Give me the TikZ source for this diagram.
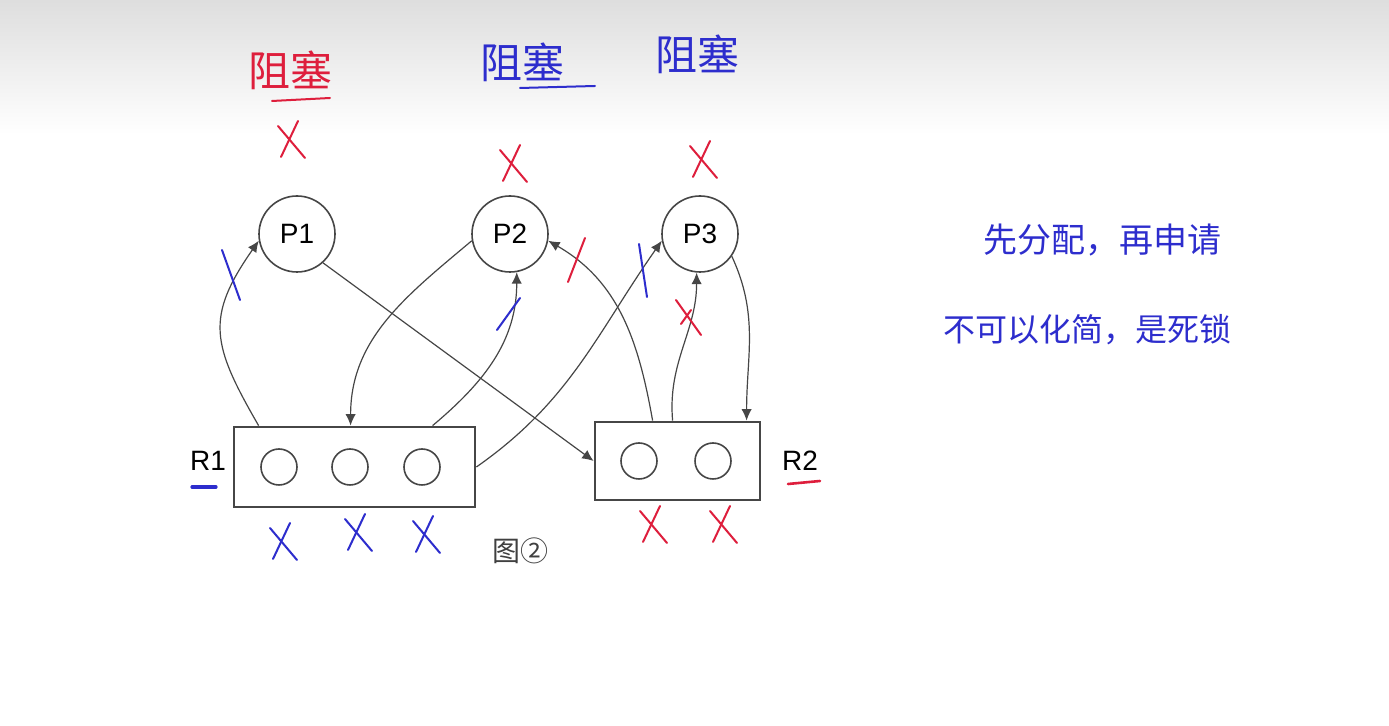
\documentclass[tikz,border=0pt]{standalone}
\usepackage{fontspec}
\setmainfont{Liberation Sans}
\newfontfamily\cjk{Noto Sans CJK SC}
\usetikzlibrary{arrows.meta,positioning,calc}
\definecolor{inkred}{RGB}{222,30,60}
\definecolor{inkblue}{RGB}{45,45,205}
\definecolor{graphgray}{RGB}{70,70,70}

\begin{document}
\begin{tikzpicture}[x=0.5pt,y=0.5pt,
 proc/.style={draw=graphgray,circle,line width=0.8pt,minimum size=38pt,inner sep=0pt,font=\fontsize{14}{16}\selectfont},
 res/.style={draw=graphgray,line width=1.4pt,inner sep=0pt},
 unit/.style={draw=graphgray,circle,line width=0.8pt,minimum size=18pt,inner sep=0pt},
 arr/.style={-{Latex[length=2mm,width=1.8mm]},line width=0.6pt,draw=graphgray},
 ink/.style={line width=1pt,line cap=round},
 hand/.style={font=\cjk\fontsize{21}{23}\selectfont},
 note/.style={font=\cjk\fontsize{17}{20}\selectfont,text=inkblue},
 lbl/.style={font=\fontsize{14}{16}\selectfont}]
\useasboundingbox (0,0) rectangle (1389,-726);
\fill[white] (0,0) rectangle (1389,-726);
\shade[top color=black!13,bottom color=white] (0,0) rectangle (1389,-135);

% processes
\node[proc] (p1) at (297,-234) {P1};
\node[proc] (p2) at (510,-234) {P2};
\node[proc] (p3) at (700,-234) {P3};

% resources
\node[res,minimum width=120.5pt,minimum height=40pt] (r1) at (354.5,-467) {};
\node[res,minimum width=82.5pt,minimum height=39pt] (r2) at (677.5,-461) {};
\foreach \i/\x in {1/279,2/350,3/422}
  \node[unit] (r1u\i) at (\x,-467) {};
\foreach \i/\x in {1/639,2/713}
  \node[unit] (r2u\i) at (\x,-461) {};
\node[lbl] (r1l) at (208,-461) {R1};
\node[lbl] (r2l) at (800,-461) {R2};
\node[font=\cjk\fontsize{14}{16}\selectfont,text=black!75] (fig) at (520,-551) {图②};

% edges
\draw[arr] ([xshift=13pt]r1.north west) to[out=120,in=235,looseness=1.3] (p1.190);
\draw[arr] (p1.-48) -- (r2.west);
\draw[arr] (p2.190) to[out=220,in=90] ([xshift=59pt]r1.north west);
\draw[arr] ([xshift=100pt]r1.north west) to[out=40,in=-90] (p2.-80);
\draw[arr] (r1.east) to[out=35,in=235] (p3.190);
\draw[arr] ([xshift=29.5pt]r2.north west) to[out=100,in=-30] (p2.-10);
\draw[arr] ([xshift=39.5pt]r2.north west) to[out=95,in=-90] (p3.-95);
\draw[arr] (p3.-35) to[out=-65,in=90] ([xshift=76.5pt]r2.north west);

% handwriting
\node[hand,text=inkred] (blk1) at (290,-70) {阻塞};
\node[hand,text=inkblue] (blk2) at (522,-62) {阻塞};
\node[hand,text=inkblue] (blk3) at (697,-54) {阻塞};
\draw[ink,inkred] (272,-101) -- (330,-98);
\draw[ink,inkblue] (520,-88) -- (595,-86);
\foreach \x/\y/\c in {290/142/inkred,512/166/inkred,702/162/inkred,
    282/544/inkblue,357/535/inkblue,425/537/inkblue,652/527/inkred,722/527/inkred} {
  \draw[ink,\c] (\x-12,-\y+16) -- (\x+15,-\y-16);
  \draw[ink,\c] (\x+8,-\y+21) -- (\x-9,-\y-15);
}
\draw[ink,inkblue] (222,-250) -- (240,-300);
\draw[ink,inkblue] (520,-298) -- (497,-330);
\draw[ink,inkred] (585,-238) -- (568,-282);
\draw[ink,inkblue] (639,-244) -- (647,-297);
\draw[ink,inkred] (676,-300) -- (701,-335);
\draw[ink,inkred] (681,-324) -- (691,-310);
\draw[ink,inkblue,line width=1.6pt] (192,-487) -- (216,-487);
\draw[ink,inkred,line width=1.3pt] (788,-484) -- (820,-481);
\node[note] (rule1) at (1102,-240) {先分配，再申请};
\node[note,font=\cjk\fontsize{16}{19}\selectfont] (rule2) at (1087,-330) {不可以化简，是死锁};
\end{tikzpicture}
\end{document}
